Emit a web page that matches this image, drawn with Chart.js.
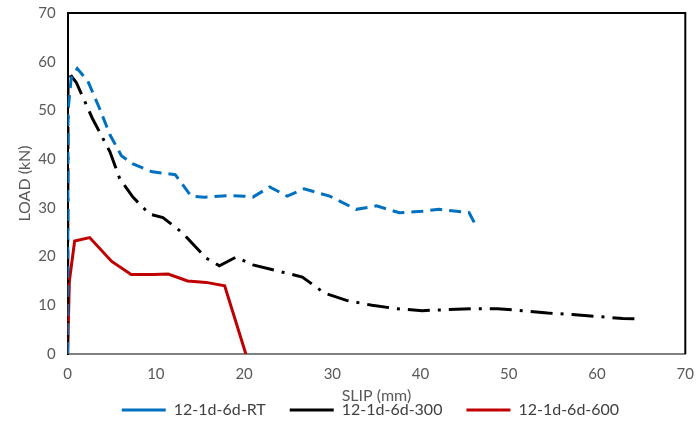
<!DOCTYPE html>
<html>
<head>
<meta charset="utf-8">
<script src="https://cdn.jsdelivr.net/npm/chart.js@4.4.1/dist/chart.umd.min.js"></script>
<style>
html,body{margin:0;padding:0;background:#fff;}
#wrap{width:697px;height:425px;}
</style>
</head>
<body>
<div id="wrap"><canvas id="c" width="697" height="425"></canvas></div>
<script>
const seriesNames = ["12-1d-6d-RT", "12-1d-6d-300", "12-1d-6d-600"];
const xTicks = [0, 10, 20, 30, 40, 50, 60, 70];
const yTicks = [0, 10, 20, 30, 40, 50, 60, 70];

const rtSlip = [0, 0.05, 0.4, 1.1, 2.3, 3.6, 4.8, 6.1, 7.4, 9.6, 12.2, 14.0, 15.5, 18.0, 20.0, 21.0, 22.9, 24.9, 26.8, 29.7, 32.7, 35.0, 37.6, 40.2, 42.1, 45.5, 46.2];
const rtLoad = [0, 50, 56.5, 58.6, 56.0, 50.5, 45.0, 40.7, 39.0, 37.4, 36.8, 32.4, 32.2, 32.5, 32.4, 32.2, 34.3, 32.4, 33.9, 32.4, 29.7, 30.4, 29.0, 29.3, 29.7, 29.0, 26.6];

const s300Slip = [0, 0.05, 1.0, 2.8, 4.8, 5.9, 7.4, 9.3, 10.8, 13.0, 15.7, 17.2, 19.1, 21.0, 26.6, 29.1, 31.6, 34.5, 37.3, 40.2, 45.9, 48.7, 51.5, 54.4, 57.2, 60.0, 62.9, 64.4];
const s300Load = [0, 58.0, 55.7, 48.4, 41.5, 36.0, 32.2, 28.7, 28.0, 24.9, 19.7, 18.1, 19.9, 18.3, 15.8, 12.5, 11.0, 10.0, 9.3, 8.9, 9.3, 9.3, 8.9, 8.4, 8.1, 7.7, 7.3, 7.2];

const s600Slip = [0, 0.2, 0.8, 2.5, 5.0, 7.2, 9.7, 11.4, 13.6, 15.7, 17.8, 20.2];
const s600Load = [0, 15.0, 23.2, 23.9, 19.0, 16.3, 16.3, 16.4, 15.0, 14.7, 14.0, 0];

function pts(xs, ys){ return xs.map((x,i)=>({x:x, y:ys[i]})); }

const FONT = 'Lato, "Liberation Sans", sans-serif';

const frame = {
  id: 'frame',
  afterDraw(chart){
    const a = chart.chartArea, ctx = chart.ctx;
    ctx.save();
    ctx.strokeStyle = '#000';
    ctx.lineWidth = 2;
    ctx.beginPath();
    ctx.moveTo(a.left, a.top);
    ctx.lineTo(a.right, a.top);
    ctx.lineTo(a.right, a.bottom);
    ctx.stroke();
    ctx.restore();
  }
};

new Chart(document.getElementById('c'), {
  type: 'scatter',
  data: {
    datasets: [
      { label: seriesNames[0], data: pts(rtSlip, rtLoad), showLine: true, borderColor: '#0070C0', backgroundColor: '#0070C0', borderWidth: 3, borderDash: [12, 7], pointRadius: 0, tension: 0 },
      { label: seriesNames[1], data: pts(s300Slip, s300Load), showLine: true, borderColor: '#000000', backgroundColor: '#000000', borderWidth: 3, borderDash: [22, 8, 3, 8], pointRadius: 0, tension: 0 },
      { label: seriesNames[2], data: pts(s600Slip, s600Load), showLine: true, borderColor: '#C00000', backgroundColor: '#C00000', borderWidth: 3, pointRadius: 0, tension: 0 }
    ]
  },
  options: {
    responsive: false,
    animation: false,
    layout: { padding: { top: 8, right: 7, left: 15, bottom: 5 } },
    plugins: {
      tooltip: { enabled: false },
      legend: {
        position: 'bottom',
        fullSize: false,
        maxHeight: 18,
        labels: {
          usePointStyle: true,
          pointStyle: 'line',
          pointStyleWidth: 44,
          boxHeight: 10,
          padding: 0,
          color: '#404040',
          font: { family: FONT, size: 16 },
          generateLabels(chart){
            const items = Chart.defaults.plugins.legend.labels.generateLabels(chart);
            items.forEach((it, i) => { it.text = it.text + (i < items.length - 1 ? '\u2003\u2003' : '\u2003'); });
            return items;
          }
        }
      }
    },
    scales: {
      x: {
        type: 'linear', min: 0, max: 70,
        afterBuildTicks(s){ s.ticks = xTicks.map(v=>({value:v})); },
        grid: { display: false },
        border: { display: true, color: '#808080', width: 2 },
        ticks: { color: '#595959', font: { family: FONT, size: 15 }, padding: 3 },
        title: { display: true, text: 'SLIP (mm)', color: '#595959', font: { family: FONT, size: 16, lineHeight: 1.0 }, padding: { top: 1.5, bottom: -1.5 } }
      },
      y: {
        type: 'linear', min: 0, max: 70,
        afterBuildTicks(s){ s.ticks = yTicks.map(v=>({value:v})); },
        grid: { display: false },
        border: { display: true, color: '#000000', width: 2 },
        ticks: { color: '#595959', font: { family: FONT, size: 15 }, padding: 4 },
        title: { display: true, text: 'LOAD (kN)', color: '#595959', font: { family: FONT, size: 16 }, padding: { top: 0, bottom: 0 } }
      }
    }
  },
  plugins: [frame]
});
</script>
</body>
</html>
